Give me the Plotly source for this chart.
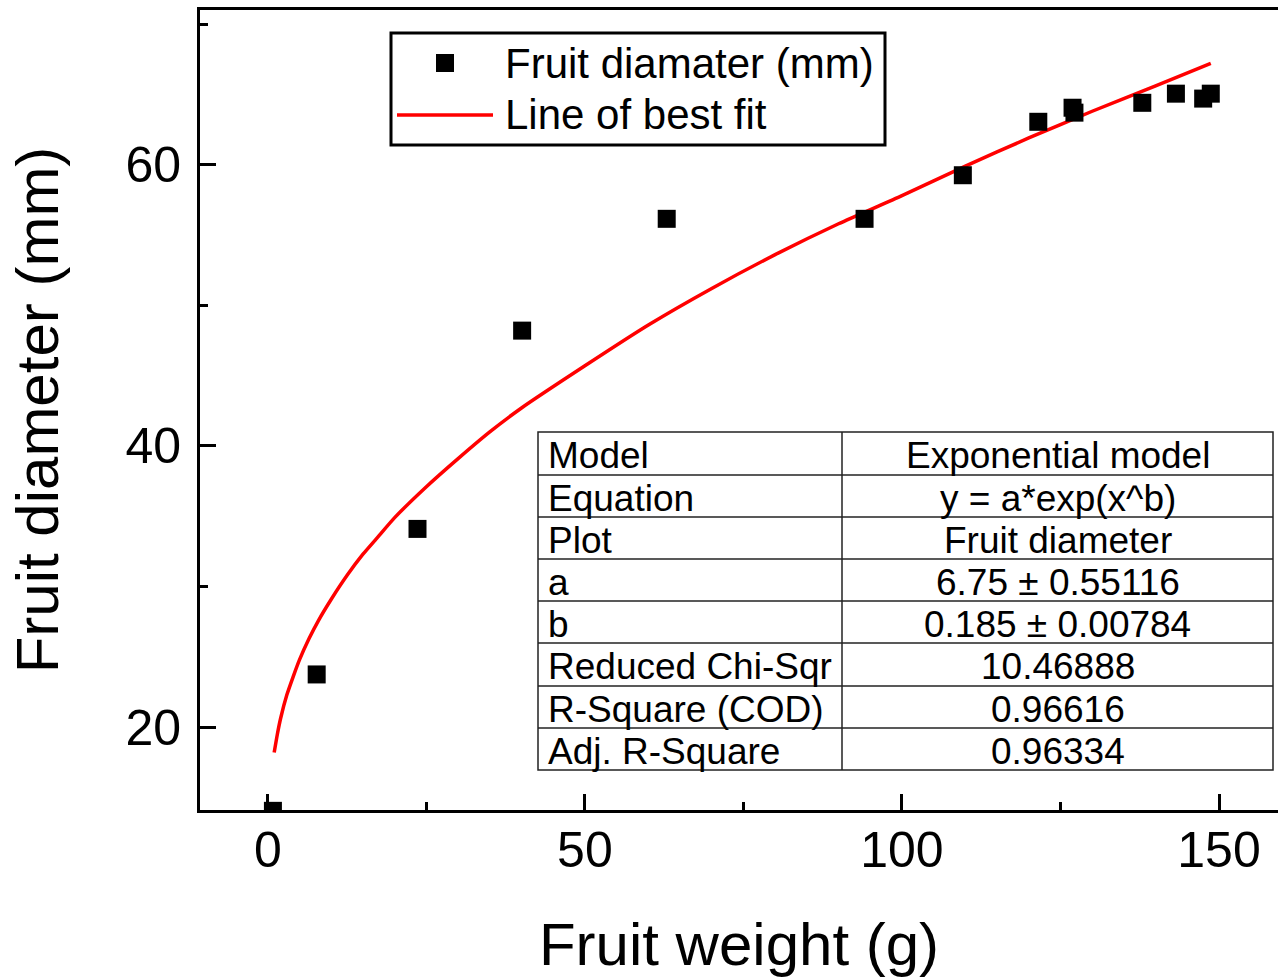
import plotly.graph_objects as go

# Measured fruit samples
weight_g = [0.8, 7.7, 23.6, 40.1, 62.9, 94.1, 109.6, 121.5, 126.9, 127.2,
            137.9, 143.2, 147.5, 148.7]
diameter_mm = [14.05, 23.75, 34.1, 48.2, 56.15, 56.15, 59.25, 63.05, 64.05, 63.7,
               64.4, 65.05, 64.7, 65.05]

# Fitted curve y = a*exp(x^b), sampled along the weight range
fit_x = [1.0, 1.5, 2, 3, 4, 5, 6.5, 8, 10, 12.5, 15, 17.5, 20, 25, 30, 35, 40,
         50, 60, 70, 80, 90, 100, 110, 120, 130, 140, 148.7]
fit_y = [18.2, 19.5, 20.6, 22.3, 23.6, 24.8, 26.3, 27.6, 29.1, 30.8, 32.3, 33.6,
         34.9, 37.1, 39.1, 41.0, 42.7, 45.7, 48.6, 51.2, 53.6, 55.8, 57.8, 59.9,
         61.9, 63.8, 65.6, 67.2]

# Fit statistics table
table_labels = ["Model", "Equation", "Plot", "a", "b", "Reduced Chi-Sqr",
                "R-Square (COD)", "Adj. R-Square"]
table_values = ["Exponential model", "y = a*exp(x^b)", "Fruit diameter",
                "6.75 ± 0.55116", "0.185 ± 0.00784", "10.46888", "0.96616", "0.96334"]

x_ticks = [0, 50, 100, 150]
y_ticks = [20, 40, 60]

FONT = "Liberation Sans, Arial, sans-serif"
W, H = 1278, 978
ML, MR, MT, MB = 200, 0, 10, 168
PW, PH = W - ML - MR, H - MT - MB


def px(xp):
    return (xp - ML) / PW


def py(yp):
    return (H - MB - yp) / PH


fig = go.Figure()

fig.add_trace(go.Scatter(
    x=fit_x, y=fit_y, mode="lines", name="Line of best fit",
    line=dict(color="#ff0000", width=3.5, shape="spline", smoothing=0.6),
    showlegend=False,
))
fig.add_trace(go.Scatter(
    x=weight_g, y=diameter_mm, mode="markers", name="Fruit diamater (mm)",
    marker=dict(symbol="square", size=18, color="black", line=dict(width=0)),
    showlegend=False,
))

shapes = []
annotations = []

# Legend box drawn by hand
shapes.append(dict(type="rect", xref="paper", yref="paper",
                   x0=px(391), x1=px(885), y0=py(33), y1=py(145),
                   line=dict(color="black", width=3), fillcolor="white", layer="above"))
shapes.append(dict(type="rect", xref="paper", yref="paper",
                   x0=px(436), x1=px(454), y0=py(54), y1=py(72),
                   line=dict(width=0), fillcolor="black", layer="above"))
shapes.append(dict(type="line", xref="paper", yref="paper",
                   x0=px(397), x1=px(493), y0=py(115), y1=py(115),
                   line=dict(color="#ff0000", width=3.5), layer="above"))
for label, yc in [("Fruit diamater (mm)", 63), ("Line of best fit", 115)]:
    annotations.append(dict(xref="paper", yref="paper", x=px(503), y=py(yc),
                            xanchor="left", yanchor="middle", showarrow=False,
                            text=label, font=dict(family=FONT, size=42, color="black")))

# Statistics table
t_left, t_mid, t_right = 538, 842, 1273
row_edges = [432, 475, 517, 559, 601, 643, 686, 728, 770]
shapes.append(dict(type="rect", xref="paper", yref="paper",
                   x0=px(t_left), x1=px(t_right), y0=py(row_edges[0]), y1=py(row_edges[-1]),
                   line=dict(color="#222", width=1.5), fillcolor="white", layer="above"))
shapes.append(dict(type="line", xref="paper", yref="paper",
                   x0=px(t_mid), x1=px(t_mid), y0=py(row_edges[0]), y1=py(row_edges[-1]),
                   line=dict(color="#222", width=1.5), layer="above"))
for ye in row_edges[1:-1]:
    shapes.append(dict(type="line", xref="paper", yref="paper",
                       x0=px(t_left), x1=px(t_right), y0=py(ye), y1=py(ye),
                       line=dict(color="#222", width=1.5), layer="above"))
for i, (lab, val) in enumerate(zip(table_labels, table_values)):
    yc = (row_edges[i] + row_edges[i + 1]) / 2 + 2
    annotations.append(dict(xref="paper", yref="paper", x=px(t_left + 8), y=py(yc),
                            xanchor="left", yanchor="middle", showarrow=False,
                            text=lab, font=dict(family=FONT, size=37, color="black")))
    annotations.append(dict(xref="paper", yref="paper", x=px((t_mid + t_right) / 2), y=py(yc),
                            xanchor="center", yanchor="middle", showarrow=False,
                            text=val, font=dict(family=FONT, size=37, color="black")))

fig.update_layout(
    width=W, height=H,
    margin=dict(l=ML, r=MR, t=MT, b=MB, pad=0),
    paper_bgcolor="white", plot_bgcolor="white",
    font=dict(family=FONT, color="black"),
    shapes=shapes, annotations=annotations,
    showlegend=False,
)

fig.update_xaxes(
    range=[-10.7, 159.3], tickvals=x_ticks, ticktext=[str(v) for v in x_ticks],
    showgrid=False, zeroline=False,
    showline=True, linecolor="black", linewidth=3, mirror=True,
    ticks="inside", ticklen=16, tickwidth=3, tickcolor="black",
    minor=dict(tickvals=[25, 75, 125], ticks="inside", ticklen=8, tickwidth=3,
               tickcolor="black", showgrid=False),
    tickfont=dict(family=FONT, size=50, color="black"),
    ticklabelstandoff=-6,
    title=dict(text="Fruit weight (g)", font=dict(family=FONT, size=60, color="black"),
               standoff=46),
)
fig.update_yaxes(
    range=[14.11, 71.0], tickvals=y_ticks, ticktext=[str(v) for v in y_ticks],
    showgrid=False, zeroline=False,
    showline=True, linecolor="black", linewidth=3, mirror=False,
    ticks="inside", ticklen=16, tickwidth=3, tickcolor="black",
    minor=dict(tickvals=[30, 50, 70], ticks="inside", ticklen=8, tickwidth=3,
               tickcolor="black", showgrid=False),
    tickfont=dict(family=FONT, size=50, color="black"),
    ticklabelstandoff=6,
    title=dict(text="Fruit diameter (mm)", font=dict(family=FONT, size=60, color="black"),
               standoff=48),
)

fig.write_html("out.html")
